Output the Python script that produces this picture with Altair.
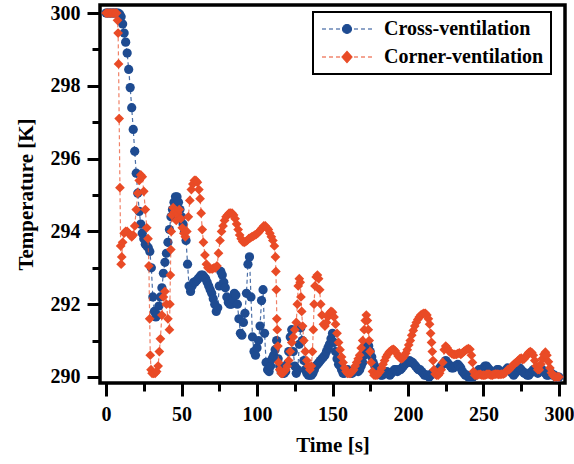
import altair as alt
import pandas as pd

# ---------------- data ----------------
series_names = ["Cross-ventilation", "Corner-ventilation"]
series_colors = ["#1e4b91", "#e94b26"]

cross_time = list(range(0, 301))
cross_temp = [
    300.0, 300.0, 300.0, 300.0, 300.0, 300.0, 300.0, 300.0, 300.0, 299.97,
    299.9, 299.7, 299.45, 299.2, 298.9, 298.45, 297.95, 297.4, 296.8, 296.2,
    295.6, 295.05, 294.55, 294.2, 293.95, 293.8, 293.65, 293.6, 293.55, 293.45,
    293.0, 292.2, 291.8, 291.65, 291.7, 291.95, 292.2, 292.45, 292.85, 293.15,
    293.4, 293.7, 294.05, 294.4, 294.6, 294.8, 294.95, 294.95, 294.8, 294.6,
    294.4, 294.2, 294.0, 293.75, 293.1, 292.5, 292.35, 292.5, 292.6, 292.6,
    292.65, 292.7, 292.75, 292.8, 292.8, 292.75, 292.7, 292.6, 292.5, 292.4,
    292.3, 292.15, 292.0, 291.8, 291.9, 292.5, 292.9, 292.8, 292.6, 292.45,
    292.2, 292.05, 292.0, 292.0, 292.15, 292.3, 292.25, 292.0, 291.6, 291.2,
    291.15, 291.5, 291.75, 292.3, 293.1, 293.3, 292.2, 291.1, 290.7, 290.6,
    290.8, 291.0, 291.4, 292.1, 292.4, 291.2, 290.4, 290.2, 290.15, 290.3,
    290.5, 290.6, 290.75, 291.0, 290.5, 290.3, 290.15, 290.1, 290.1, 290.15,
    290.35, 290.7, 291.1, 291.3, 290.7, 290.3, 290.1, 290.2, 290.9, 291.35,
    291.0, 290.45, 290.2, 290.1, 290.05, 290.05, 290.05, 290.1, 290.2, 290.3,
    290.35, 290.4, 290.45, 290.5, 290.55, 290.6, 290.7, 290.8, 290.9, 291.05,
    291.2, 290.95, 290.7, 290.5, 290.35, 290.3, 290.2, 290.1, 290.1, 290.15,
    290.2, 290.15, 290.1, 290.1, 290.15, 290.2, 290.2, 290.15, 290.2, 290.3,
    290.4, 290.6, 290.8, 290.9, 290.85, 290.7, 290.55, 290.4, 290.3, 290.2,
    290.15, 290.1, 290.05, 290.05, 290.1, 290.1, 290.15, 290.1, 290.05, 290.1,
    290.15, 290.2, 290.2, 290.15, 290.2, 290.2, 290.25, 290.3, 290.35, 290.4,
    290.4, 290.45, 290.4, 290.4, 290.35, 290.3, 290.25, 290.2, 290.2, 290.15,
    290.1, 290.05, 290.05, 290.05, 290.0, 290.05, 290.1, 290.1, 290.1, 290.15,
    290.2, 290.25, 290.3, 290.35, 290.4, 290.45, 290.4, 290.35, 290.3, 290.25,
    290.25, 290.3, 290.3, 290.35, 290.3, 290.25, 290.15, 290.1, 290.05, 290.05,
    290.0, 290.0, 290.0, 290.0, 290.05, 290.1, 290.15, 290.2, 290.2, 290.2,
    290.25, 290.3, 290.3, 290.25, 290.2, 290.15, 290.1, 290.1, 290.15, 290.2,
    290.2, 290.15, 290.1, 290.1, 290.15, 290.2, 290.25, 290.2, 290.15, 290.1,
    290.05, 290.1, 290.15, 290.2, 290.25, 290.2, 290.15, 290.1, 290.1, 290.05,
    290.05, 290.1, 290.15, 290.2, 290.2, 290.15, 290.1, 290.15, 290.2, 290.2,
    290.15, 290.1, 290.05, 290.05, 290.1, 290.1, 290.05, 290.05, 290.0, 290.0,
    290.0,
]

corner_time = [
    0, 1, 2, 3, 4, 5, 6, 7, 7.6, 8.0, 8.3, 8.7, 9.2, 9.7, 10.0, 10.4,
    11, 12, 13, 14, 15, 16, 17, 18, 19, 20, 21, 22, 23, 24, 25, 26, 27,
    27.8, 28.4, 28.9, 29.3, 29.8, 30.5, 31.5, 32.5, 33.5, 34.5, 35.3, 36, 37, 38, 39, 40, 41, 42,
    42.3, 42.6, 42.9, 43.2, 43.6, 44.5, 45.5, 46.5, 47.5, 48.5, 49.5, 50.5, 51.5, 52.5,
    53.5, 54.5, 55.5, 56.5, 57.5, 58.5, 59.5, 60.5, 61.5,
    62.3, 63, 63.7, 64.5, 65.5, 66.5, 67.5, 68.5, 69.5, 70.5, 71.5, 72.5, 73.5,
    74.5, 75.5, 76.5, 77.5, 78.5, 79.5, 80.5, 81.5, 82.5, 83.5,
    84.5, 85.5, 86.5, 87.5, 88.5, 89.5, 90.5, 91.5, 92.5, 93.5,
    94.5, 95.5, 96.5, 97.5, 98.5, 99.5, 100.5, 101.5, 102.5, 103.5,
    104.5, 105.5, 106.5, 107.5, 108.5, 109.5, 110.5, 111.5,
    112.2, 112.5, 112.8, 113.1, 113.4, 113.8, 114.3,
    115, 116, 117, 118, 119, 120, 121, 122, 123, 124, 125, 126,
    126.7, 127.3, 128, 128.6, 129.1, 129.6, 130.2, 131, 132, 133, 134, 135, 136,
    136.7, 137.3, 137.8, 138.4, 139.2, 140, 140.8, 141.5, 142.2,
    143, 144, 145, 146, 147, 148, 149, 150, 151, 152,
    153, 154, 155, 156, 157, 158, 159, 160, 161, 162,
    163, 164, 165, 166, 167, 168, 169, 170, 171,
    171.7, 172.4, 173.1, 173.7, 174.3, 174.9, 175.6, 176.5,
    177.5, 178.5, 179.5, 180.5, 181.5, 182.5, 183.5, 184.5, 185.5, 186.5,
    187.5, 188.5, 189.5, 190.5, 191.5, 192.5, 193.5, 194.5, 195.5, 196.5,
    197.5, 198.5, 199.5, 200.5, 201.5, 202.5, 203.5, 204.5, 205.5, 206.5,
    207.5, 208.5, 209.5, 210.5, 211.5, 212.5, 213.5,
    214.3, 215, 215.6, 216.1, 216.6, 217.2,
    218, 219, 220, 221, 222, 223, 224, 225, 226, 227,
    228, 229, 230, 231, 232, 233, 234, 235, 236, 237,
    238, 239, 240, 241, 242,
    242.7, 243.4, 244.2,
    245, 246, 247, 248, 249, 250, 251, 252, 253, 254,
    255, 256, 257, 258, 259, 260, 261, 262, 263, 264,
    265, 266, 267, 268, 269, 270, 271, 272, 273, 274,
    275, 276, 277, 278, 279, 280, 281, 282, 283, 284,
    285, 286, 287, 288, 289, 290, 291, 292, 293, 294,
    295, 296, 297, 298, 299, 300,
]
corner_temp = [
    300.0, 300.0, 300.0, 300.0, 300.0, 300.0, 300.0, 300.0, 299.8, 299.45, 298.6, 297.1, 295.2, 293.6, 293.1, 293.3,
    293.7, 293.95, 294.0, 294.0, 293.95, 293.9, 293.85, 293.9, 294.15, 294.6, 295.05, 295.4, 295.55, 295.5, 295.1, 294.6, 294.1,
    293.8, 293.05, 291.6, 290.6, 290.2, 290.1, 290.1, 290.1, 290.15, 290.3, 290.7, 291.05, 291.7, 292.2, 292.35, 292.0, 291.6, 291.3,
    292.0, 292.8, 293.5, 294.0, 294.45, 294.65, 294.55, 294.3, 294.5, 294.6, 294.35, 294.1, 293.95, 293.85,
    294.0, 294.4, 294.85, 295.15, 295.3, 295.4, 295.4, 295.35, 295.15,
    294.9, 294.5, 294.05, 293.7, 293.35, 293.1, 293.0, 292.97, 292.97, 292.97, 293.0, 293.0, 293.05,
    293.4, 293.75, 294.0, 294.15, 294.3, 294.4, 294.45, 294.5, 294.5, 294.5,
    294.45, 294.35, 294.2, 294.05, 293.9, 293.8, 293.72, 293.7, 293.72, 293.75,
    293.8, 293.82, 293.85, 293.87, 293.9, 293.92, 293.95, 294.0, 294.05, 294.1,
    294.15, 294.15, 294.1, 294.05, 293.95, 293.85, 293.75, 293.6,
    293.3, 292.9, 292.4, 291.6, 291.3, 290.85, 290.4,
    290.2, 290.1, 290.1, 290.15, 290.2, 290.3, 290.45, 290.7, 290.95, 291.1, 291.3, 291.5,
    292.0, 292.5, 292.7, 292.6, 292.2, 291.8, 291.4, 291.0, 290.7, 290.45, 290.3, 290.2, 290.3,
    290.7, 291.3, 292.0, 292.5, 292.75, 292.8, 292.7, 292.4, 292.0,
    291.7, 291.45, 291.4, 291.5, 291.65, 291.75, 291.8, 291.78, 291.65, 291.45,
    291.2, 290.95, 290.75, 290.55, 290.4, 290.25, 290.15, 290.1, 290.1, 290.1,
    290.15, 290.2, 290.3, 290.4, 290.5, 290.6, 290.8, 291.0, 291.3,
    291.55, 291.7, 291.55, 291.3, 291.0, 290.7, 290.4, 290.15,
    290.05, 290.05, 290.05, 290.1, 290.15, 290.25, 290.35, 290.45, 290.55, 290.62,
    290.68, 290.72, 290.75, 290.76, 290.72, 290.65, 290.58, 290.53, 290.5, 290.52,
    290.58, 290.65, 290.75, 290.88, 291.0, 291.15, 291.28, 291.4, 291.5, 291.58,
    291.65, 291.7, 291.73, 291.75, 291.75, 291.7, 291.6,
    291.45, 291.2, 290.95, 290.7, 290.45, 290.2,
    290.08, 290.05, 290.05, 290.1, 290.2, 290.4, 290.75, 290.85, 290.8, 290.72,
    290.68, 290.64, 290.62, 290.62, 290.62, 290.64, 290.66, 290.62, 290.66, 290.7,
    290.73, 290.76, 290.78, 290.76, 290.6,
    290.4, 290.15, 290.05,
    290.05, 290.05, 290.07, 290.07, 290.05, 290.05, 290.05, 290.07, 290.08, 290.07,
    290.05, 290.05, 290.07, 290.08, 290.08, 290.07, 290.07, 290.08, 290.08, 290.1,
    290.15, 290.2, 290.2, 290.25, 290.3, 290.35, 290.38, 290.4, 290.45, 290.5,
    290.52, 290.48, 290.5, 290.55, 290.62, 290.67, 290.7, 290.67, 290.6, 290.45,
    290.3, 290.2, 290.2, 290.35, 290.5, 290.62, 290.68, 290.6, 290.42, 290.25,
    290.12, 290.05, 290.0, 290.0, 290.0, 290.0,
]

x_major = [0, 50, 100, 150, 200, 250, 300]
x_minor = [25, 75, 125, 175, 225, 275]
y_major = [290, 292, 294, 296, 298, 300]
y_minor = [291, 293, 295, 297, 299]

assert len(cross_time) == len(cross_temp)
assert len(corner_time) == len(corner_temp)

cross_df = pd.DataFrame({"time": cross_time, "temp": cross_temp, "series": series_names[0]})
corner_df = pd.DataFrame({"time": corner_time, "temp": corner_temp, "series": series_names[1]})
all_df = pd.concat([cross_df, corner_df], ignore_index=True)

# ---------------- styling ----------------
FONT = "Liberation Serif"
BLUE, ORANGE = series_colors

x_scale = alt.Scale(domain=[-4, 304], nice=False, zero=False)
y_scale = alt.Scale(domain=[289.835, 300.22], nice=False, zero=False)


def main_axis(vals, title, orient, title_pad, label_pad):
    return alt.Axis(
        values=vals, orient=orient, title=title, domain=False, grid=False,
        tickSize=13, tickWidth=3, tickColor="black",
        labelFont=FONT, labelFontSize=20, labelFontWeight="bold", labelColor="black",
        labelPadding=label_pad, labelFlush=False, labelOverlap=False,
        titleFont=FONT, titleFontSize=21, titleFontWeight="bold", titleColor="black",
        titlePadding=title_pad,
    )


def minor_axis(vals, orient):
    return alt.Axis(
        values=vals, orient=orient, title=None, domain=False, grid=False,
        tickSize=8, tickWidth=3, tickColor="black", labels=False,
    )


# legend symbols: dashed line with marker in the middle (unit coords, scaled by sqrt(size)/2)
dash_part = "M-1,0L-0.5,0M-0.125,0L0.375,0M0.75,0L1.25,0M3.0,0L3.5,0M3.875,0L4.375,0M4.75,0L5.25,0"
circle_part = "M2.685,0A0.56,0.56,0,1,1,1.565,0A0.56,0.56,0,1,1,2.685,0Z"
diamond_part = "M2.125,-0.7L2.75,0L2.125,0.7L1.5,0Z"
legend_shapes = [dash_part + circle_part, dash_part + diamond_part]

leg = alt.Legend(
    title=None, orient="none", legendX=213, legendY=7, direction="vertical",
    labelFont=FONT, labelFontSize=20, labelFontWeight="bold", labelColor="black",
    labelLimit=400, labelOffset=44, symbolSize=256, symbolStrokeWidth=1.2,
    rowPadding=8, padding=7, strokeColor="black", fillColor="white", cornerRadius=0,
)

base_cross = alt.Chart(cross_df)
base_corner = alt.Chart(corner_df)

cross_line = base_cross.mark_line(
    strokeDash=[4, 3], strokeWidth=1.2, color=BLUE, opacity=0.8
).encode(
    x=alt.X("time:Q", scale=x_scale, axis=main_axis(x_major, "Time [s]", "bottom", 10, 8)),
    y=alt.Y("temp:Q", scale=y_scale, axis=main_axis(y_major, "Temperature [K]", "left", 14, 7)),
)
cross_pts = base_cross.mark_point(
    filled=True, shape="circle", size=85, color=BLUE, opacity=1
).encode(x=alt.X("time:Q", axis=None), y=alt.Y("temp:Q", axis=None))

corner_line = base_corner.mark_line(
    strokeDash=[4, 3], strokeWidth=1.2, color=ORANGE, opacity=0.7
).encode(x=alt.X("time:Q", axis=None), y=alt.Y("temp:Q", axis=None))
corner_pts = base_corner.mark_point(
    filled=True, shape="diamond", size=95, color=ORANGE, opacity=1
).encode(x=alt.X("time:Q", axis=None), y=alt.Y("temp:Q", axis=None))

legend_layer = alt.Chart(all_df).transform_filter("datum.temp > 1000").mark_point(
    filled=False, opacity=1, strokeWidth=1.2
).encode(
    x=alt.X("time:Q", axis=minor_axis(x_minor, "bottom")),
    y=alt.Y("temp:Q", axis=minor_axis(y_minor, "left")),
    shape=alt.Shape("series:N", scale=alt.Scale(domain=series_names, range=legend_shapes), legend=leg),
    color=alt.Color("series:N", scale=alt.Scale(domain=series_names, range=series_colors), legend=leg),
    fill=alt.Fill("series:N", scale=alt.Scale(domain=series_names, range=series_colors), legend=leg),
)

chart = alt.layer(
    cross_line, cross_pts, corner_line, corner_pts, legend_layer
).resolve_axis(
    x="independent", y="independent"
).properties(
    width=465, height=378,
    autosize=alt.AutoSizeParams(type="none"),
    padding={"left": 100, "top": 5, "right": 9, "bottom": 81},
    background="white",
).configure_view(
    stroke="black", strokeWidth=3.5
).configure_legend(
    strokeWidth=2
)

chart.save("out.html", embed_options={"renderer": "svg", "actions": False})
